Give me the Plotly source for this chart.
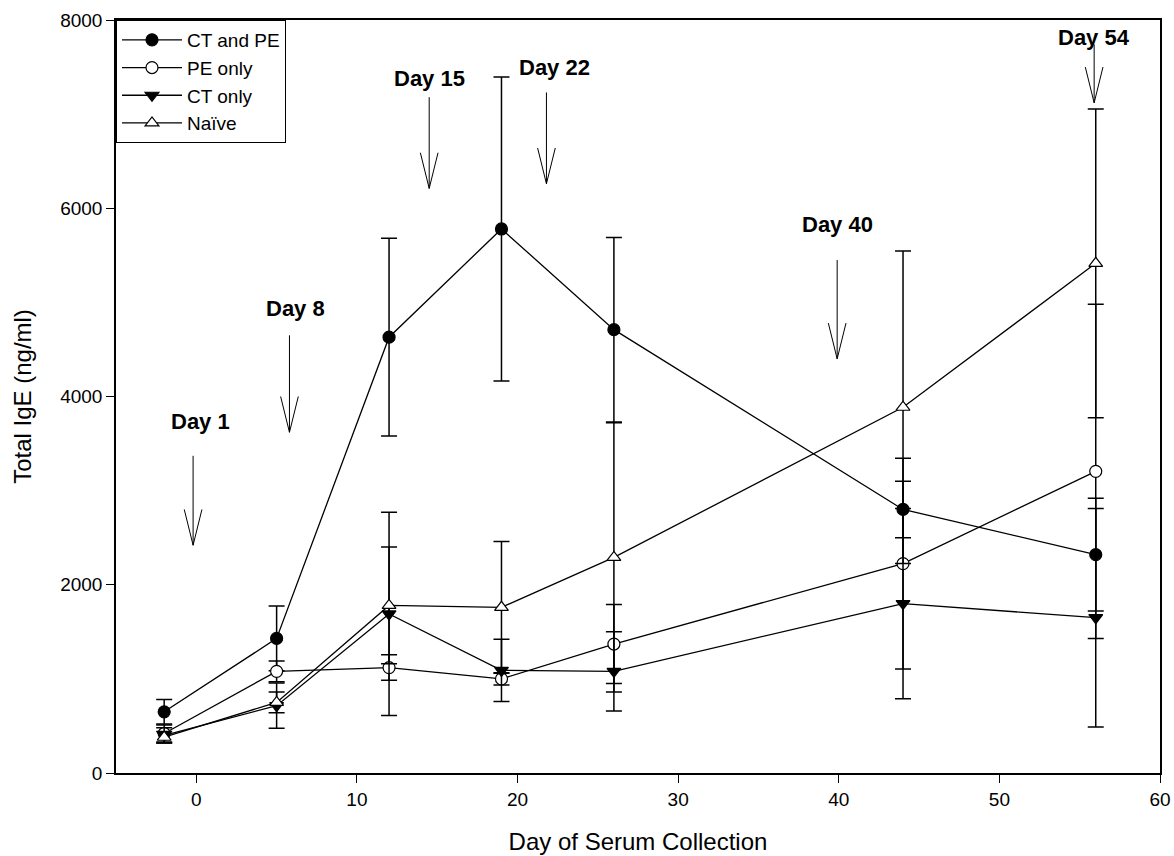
import plotly.graph_objects as go

days = [-2, 5, 12, 19, 26, 44, 56]

ct_pe = [650, 1430, 4630, 5780, 4710, 2800, 2320]
ct_pe_err = [130, 345, 1050, 1615, 980, 300, 600]

pe_only = [420, 1080, 1120, 1000, 1370, 2225, 3205]
pe_only_err = [90, 110, 135, 65, 420, 1120, 1775]

ct_only = [400, 715, 1690, 1090, 1080, 1800, 1650]
ct_only_err = [80, 240, 1080, 330, 420, 1010, 1160]

naive = [380, 750, 1780, 1760, 2290, 3886, 5415]
naive_err = [60, 110, 620, 700, 1430, 1660, 1640]

series_names = ["CT and PE", "PE only", "CT only", "Naïve"]

arrow_labels = ["Day 1", "Day 8", "Day 15", "Day 22", "Day 40", "Day 54"]
arrow_x = [-0.2, 5.8, 14.5, 21.8, 39.9, 55.9]
arrow_top = [3370, 4650, 7180, 7230, 5450, 7740]
arrow_tip = [2420, 3620, 6210, 6260, 4400, 7120]
label_x = [0.25, 6.2, 14.5, 22.3, 39.9, 55.9]
label_y = [3734, 4936, 7383, 7500, 5830, 7819]

FONT = "Liberation Sans, Arial, sans-serif"

fig = go.Figure()

markers = [
    dict(symbol="circle", size=12, color="black", line=dict(color="black", width=1.2)),
    dict(symbol="circle", size=12, color="white", line=dict(color="black", width=1.2)),
    dict(symbol="triangle-down", size=12, color="black", line=dict(color="black", width=1.2)),
    dict(symbol="triangle-up", size=12, color="white", line=dict(color="black", width=1.2)),
]
values = [ct_pe, pe_only, ct_only, naive]
errors = [ct_pe_err, pe_only_err, ct_only_err, naive_err]

for name, vals, errs, mk in zip(series_names, values, errors, markers):
    fig.add_trace(go.Scatter(
        x=days, y=vals, name=name, mode="lines+markers",
        line=dict(color="black", width=1.3),
        marker=mk,
        error_y=dict(type="data", array=errs, visible=True, color="black", thickness=1.5, width=8),
    ))

# arrows (open V heads) and labels
head_dx = 0.55
head_dy = 380
for lab, ax, at, tip, lx, ly in zip(arrow_labels, arrow_x, arrow_top, arrow_tip, label_x, label_y):
    fig.add_shape(type="line", x0=ax, x1=ax, y0=at, y1=tip, line=dict(color="black", width=1))
    fig.add_shape(type="line", x0=ax - head_dx, x1=ax, y0=tip + head_dy, y1=tip, line=dict(color="black", width=1))
    fig.add_shape(type="line", x0=ax + head_dx, x1=ax, y0=tip + head_dy, y1=tip, line=dict(color="black", width=1))
    fig.add_annotation(x=lx, y=ly, text="<b>%s</b>" % lab, showarrow=False,
                       font=dict(family=FONT, size=22, color="black"), xanchor="center", yanchor="middle")

fig.update_layout(
    width=1174, height=856,
    margin=dict(l=116, r=14, t=20, b=83),
    paper_bgcolor="white", plot_bgcolor="white",
    font=dict(family=FONT, size=19, color="black"),
    showlegend=True,
    legend=dict(x=0, y=1, xanchor="left", yanchor="top",
                bgcolor="white", bordercolor="black", borderwidth=1,
                font=dict(family=FONT, size=19), tracegroupgap=0, itemwidth=60),
    xaxis=dict(range=[-5, 60], tickvals=[0, 10, 20, 30, 40, 50, 60],
               showline=True, linecolor="black", linewidth=1.5, mirror=True,
               ticks="outside", ticklen=8, tickwidth=1, tickcolor="black",
               showgrid=False, zeroline=False, automargin=False,
               title=dict(text="Day of Serum Collection", font=dict(size=24), standoff=25),
               tickfont=dict(size=19)),
    yaxis=dict(range=[0, 8000], tickvals=[0, 2000, 4000, 6000, 8000],
               showline=True, linecolor="black", linewidth=1.5, mirror=True,
               ticks="outside", ticklen=8, tickwidth=1, tickcolor="black",
               showgrid=False, zeroline=False, automargin=False,
               title=dict(text="Total IgE (ng/ml)", font=dict(size=24), standoff=22),
               tickfont=dict(size=19)),
)

fig.write_html("out.html")
